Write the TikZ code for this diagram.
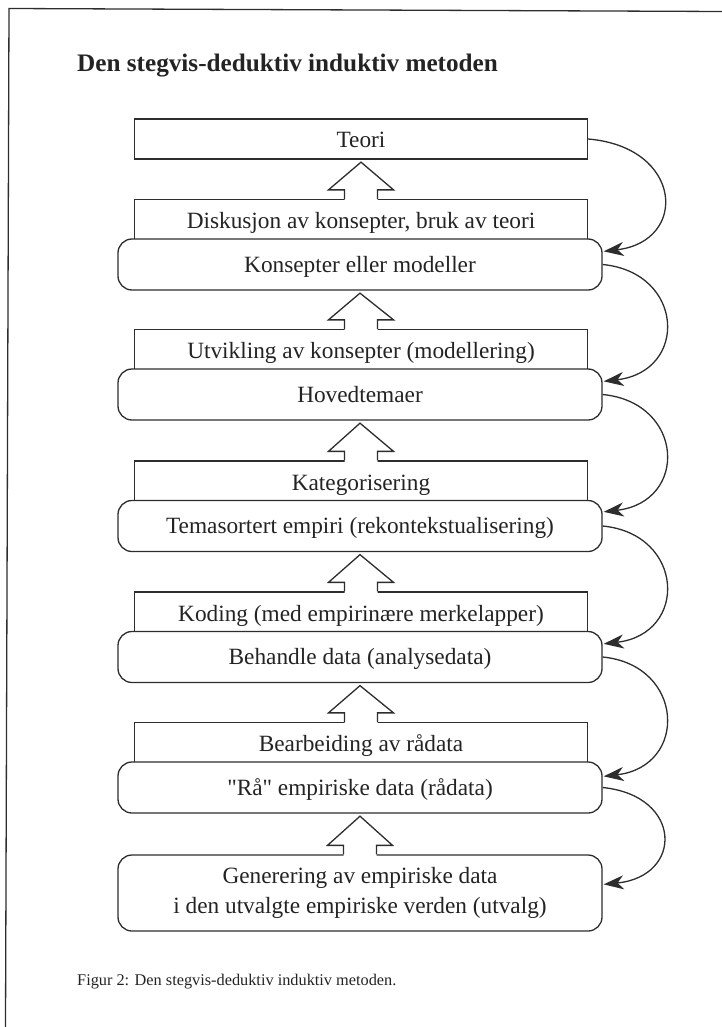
\documentclass[tikz,border=0pt]{standalone}
\usepackage{fontspec}
\setmainfont{Liberation Serif}
\usetikzlibrary{arrows.meta,calc}
\definecolor{ink}{RGB}{35,35,35}
\definecolor{linec}{RGB}{45,45,45}
\newcommand{\straightquote}{\XeTeXglyph\XeTeXglyphindex "quotedbl"\relax}
\newcommand{\blockup}[2]{%
  \fill[white] ($(#1.north)+(-16.5,1.5)$) -- ($(#1.north)+(-16.5,-9)$) -- ($(#1.north)+(-32.5,-9)$) -- ($(#2.south)+(0,2.5)$) -- ($(#1.north)+(32.5,-9)$) -- ($(#1.north)+(16.5,-9)$) -- ($(#1.north)+(16.5,1.5)$) -- cycle;
  \draw[lc] ($(#1.north)+(-16.5,0)$) -- ($(#1.north)+(-16.5,-9)$) -- ($(#1.north)+(-32.5,-9)$) -- ($(#2.south)+(0,2.5)$) -- ($(#1.north)+(32.5,-9)$) -- ($(#1.north)+(16.5,-9)$) -- ($(#1.north)+(16.5,0)$);%
}
\begin{document}
\begin{tikzpicture}[x=1pt,y=-1pt,
  lc/.style={draw=linec, line width=1.3pt, line join=miter},
  box/.style={lc, fill=white, text=ink, font=\fontsize{23.3}{30}\selectfont, inner sep=0pt, align=center},
  rectbox/.style={box, minimum width=453pt, minimum height=40pt, text height=19pt, text depth=1pt},
  roundbox/.style={box, rounded corners=14pt, minimum width=484pt, minimum height=51pt, text height=16pt, text depth=1pt},
  genbox/.style={box, rounded corners=14pt, minimum width=484pt, minimum height=76pt},
  curv/.style={draw=linec, line width=1.3pt, -{Stealth[length=20pt,width=14pt,inset=6pt]}}
]
\useasboundingbox (0,0) rectangle (722,1027);
% frame
\draw[lc] (5.5,1027) -- (9,8.5) -- (722,11.5);
% title
\node[anchor=base west, inner sep=0pt, text=ink, font=\fontsize{25.2}{30}\selectfont\bfseries] (title) at (77,72) {Den stegvis-deduktiv induktiv metoden};
% rectangular boxes
\node[rectbox] (teori) at (361,139) {Teori};
\node[rectbox] (disk) at (361,219.5) {Diskusjon av konsepter, bruk av teori};
\node[rectbox] (utv) at (361,349.5) {Utvikling av konsepter (modellering)};
\node[rectbox] (kat) at (361,481) {Kategorisering};
\node[rectbox] (kod) at (361,612) {Koding (med empirinære merkelapper)};
\node[rectbox] (bearb) at (361,742.5) {Bearbeiding av rådata};
% rounded boxes
\node[roundbox] (kons) at (360,264.5) {Konsepter eller modeller};
\node[roundbox] (hoved) at (360,394.5) {Hovedtemaer};
\node[roundbox] (tema) at (360,526) {Temasortert empiri (rekontekstualisering)};
\node[roundbox] (beh) at (360,657) {Behandle data (analysedata)};
\node[roundbox] (raa) at (360,787.5) {\straightquote Rå\straightquote{} empiriske data (rådata)};
\node[genbox] (gen) at (360,893) {Generering av empiriske data\\i den utvalgte empiriske verden (utvalg)};
% block arrows
\blockup{disk}{teori}
\blockup{utv}{kons}
\blockup{kat}{hoved}
\blockup{kod}{tema}
\blockup{bearb}{beh}
\blockup{gen}{raa}
% curved arrows
\draw[curv] (teori.east) .. controls +(95,8) and +(85,-10) .. ($(kons.north east)+(1,13)$);
\draw[curv] (kons.east) .. controls +(82,8) and +(85,-10) .. ($(hoved.north east)+(1,13)$);
\draw[curv] (hoved.east) .. controls +(82,8) and +(85,-10) .. ($(tema.north east)+(1,12)$);
\draw[curv] (tema.east) .. controls +(82,8) and +(85,-10) .. ($(beh.north east)+(1,13)$);
\draw[curv] (beh.east) .. controls +(82,8) and +(85,-10) .. ($(raa.north east)+(1,15)$);
\draw[curv] (raa.east) .. controls +(80,8) and +(80,-8) .. ($(gen.north east)+(1,30)$);
% caption
\node[anchor=base west, inner sep=0pt, text=ink, font=\fontsize{16.3}{19}\selectfont] (cap) at (77,985) {Figur 2: Den stegvis-deduktiv induktiv metoden.};
\end{tikzpicture}
\end{document}
